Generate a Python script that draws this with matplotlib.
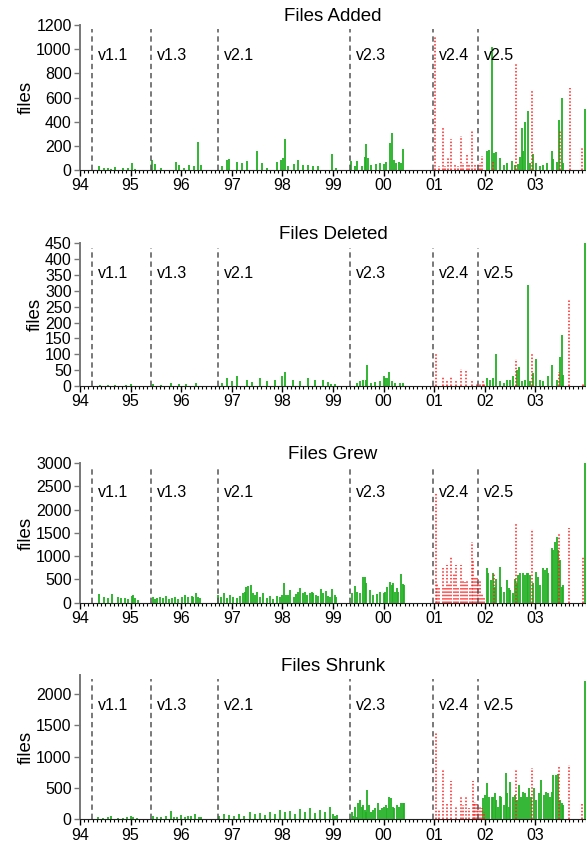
import numpy as np
import matplotlib
matplotlib.use('Agg')
import matplotlib.pyplot as plt
from matplotlib.ticker import FixedLocator, MultipleLocator

plt.rcParams['font.family'] = ['Liberation Sans', 'DejaVu Sans']

# versiones (fecha de inicio, en años desde 1900)
versions = ['v1.1', 'v1.3', 'v2.1', 'v2.3', 'v2.4', 'v2.5']
version_yr = [94.23, 95.41, 96.72, 99.33, 100.98, 101.87]

year_ticks = [94, 95, 96, 97, 98, 99, 100, 101, 102, 103]
year_labels = ['94', '95', '96', '97', '98', '99', '00', '01', '02', '03']

# ---------- Files Added ----------
added_green_yr = [94.38, 94.47, 94.55, 94.62, 94.70, 94.85, 94.95, 95.02, 95.08,
                  95.43, 95.48, 95.60, 95.90, 95.95, 96.05, 96.15, 96.25, 96.33, 96.40,
                  96.80, 96.90, 96.95, 97.10, 97.20, 97.30, 97.50, 97.60, 97.70, 97.90,
                  97.98, 98.02, 98.06, 98.12, 98.23, 98.30, 98.40, 98.50, 98.60, 98.70,
                  98.98, 99.05,
                  99.36, 99.43, 99.47, 99.58, 99.63, 99.66, 99.69, 99.76, 99.85, 99.92,
                  100.00, 100.05, 100.13, 100.17, 100.20, 100.25, 100.30, 100.35, 100.38,
                  102.04, 102.08, 102.15, 102.19, 102.23, 102.30, 102.37, 102.43, 102.53,
                  102.60, 102.66, 102.69, 102.73, 102.76, 102.80, 102.86, 102.89, 102.96,
                  103.02, 103.09, 103.16, 103.22, 103.32, 103.35, 103.42, 103.47, 103.52,
                  103.55, 103.99]
added_green_n = [30, 15, 20, 12, 25, 15, 20, 60, 10,
                 85, 50, 20, 70, 45, 20, 40, 35, 235, 40,
                 35, 85, 90, 70, 60, 75, 160, 60, 20, 70,
                 80, 100, 255, 35, 50, 85, 45, 40, 35, 30,
                 135, 15,
                 75, 30, 75, 30, 110, 215, 100, 40, 50, 60,
                 50, 70, 220, 310, 80, 60, 65, 55, 175,
                 160, 165, 1015, 140, 150, 100, 40, 60, 75,
                 40, 50, 110, 345, 160, 400, 490, 60, 130,
                 60, 30, 40, 60, 160, 90, 70, 410, 600,
                 60, 505]
added_red_yr = [101.02, 101.10, 101.17, 101.21, 101.27, 101.34, 101.41, 101.48, 101.53,
                101.57, 101.64, 101.69, 101.75, 101.80, 101.86, 101.90, 101.94, 102.17,
                102.62, 102.94, 103.49, 103.68, 103.93]
added_red_n = [1100, 30, 350, 30, 110, 255, 40, 30, 280,
               60, 125, 40, 320, 40, 50, 60, 120, 70,
               880, 650, 320, 680, 185]

# ---------- Files Deleted ----------
deleted_green_yr = [94.40, 94.55, 94.70, 94.90, 95.00,
                    95.45, 95.60, 95.80, 95.95, 96.10, 96.30,
                    96.80, 96.90, 97.00, 97.10, 97.30, 97.40, 97.55, 97.70, 97.85, 98.00,
                    98.05, 98.20, 98.35, 98.50, 98.65, 98.80, 98.90, 98.97, 99.04,
                    99.47, 99.53, 99.60, 99.65, 99.68, 99.76, 99.83, 99.93, 100.00, 100.03,
                    100.07, 100.11, 100.16, 100.23, 100.33, 100.39,
                    102.05, 102.10, 102.17, 102.23, 102.30, 102.37, 102.43, 102.50, 102.55,
                    102.63, 102.68, 102.73, 102.79, 102.86, 102.89, 102.96, 103.02, 103.09,
                    103.16, 103.25, 103.32, 103.42, 103.49, 103.52, 103.55, 103.99]
deleted_green_n = [3, 4, 4, 3, 5,
                   5, 4, 8, 5, 6, 10,
                   10, 25, 15, 30, 20, 12, 25, 15, 20, 30,
                   45, 20, 15, 25, 18, 20, 12, 5, 6,
                   10, 15, 20, 20, 65, 10, 12, 15, 30, 25,
                   25, 45, 15, 10, 10, 8,
                   25, 20, 25, 100, 15, 10, 20, 18, 30,
                   50, 60, 15, 20, 320, 15, 40, 85, 20,
                   15, 30, 65, 20, 90, 160, 35, 470]
deleted_red_yr = [101.04, 101.17, 101.26, 101.34, 101.43, 101.52, 101.63, 101.74, 101.84,
                  101.91, 101.96, 101.98, 102.61, 102.94, 103.47, 103.67, 103.95]
deleted_red_n = [105, 30, 20, 30, 15, 55, 50, 20, 10,
                 10, 15, 5, 85, 100, 45, 270, 8]

# ---------- Files Grew ----------
grew_green_yr = [94.38, 94.47, 94.56, 94.63, 94.76, 94.82, 94.89, 94.95, 95.02, 95.05,
                 95.09, 95.15,
                 95.44, 95.48, 95.53, 95.58, 95.65, 95.70, 95.75, 95.81, 95.88, 95.94,
                 96.01, 96.08, 96.14, 96.21, 96.24, 96.29, 96.34, 96.38,
                 96.73, 96.78, 96.85, 96.90, 96.96, 97.03, 97.10, 97.16, 97.23, 97.26,
                 97.29, 97.33, 97.37, 97.41, 97.46, 97.50, 97.56, 97.62, 97.69, 97.75,
                 97.82, 97.89, 97.95, 97.99, 98.03, 98.07, 98.12, 98.16, 98.22, 98.27,
                 98.31, 98.35, 98.40, 98.45, 98.49, 98.55, 98.58, 98.61, 98.66, 98.71,
                 98.76, 98.81, 98.86, 98.91, 98.95, 98.99, 99.04, 99.06,
                 99.37, 99.43, 99.48, 99.53, 99.60, 99.63, 99.66, 99.73, 99.80, 99.86,
                 99.93, 100.00, 100.03, 100.07, 100.13, 100.16, 100.19, 100.23, 100.26,
                 100.29, 100.34, 100.38, 100.40,
                 102.05, 102.07, 102.12, 102.16, 102.20, 102.23, 102.30, 102.33, 102.37,
                 102.43, 102.47, 102.50, 102.55, 102.60, 102.63, 102.66, 102.70, 102.75,
                 102.79, 102.83, 102.86, 102.89, 102.96, 103.01, 103.06, 103.09, 103.16,
                 103.19, 103.22, 103.25, 103.32, 103.35, 103.39, 103.42, 103.45, 103.49,
                 103.52, 103.55, 103.99]
grew_green_n = [186, 130, 93, 186, 115, 90, 90, 70, 143, 165,
                90, 55,
                130, 70, 90, 130, 90, 143, 70, 90, 115, 70,
                130, 165, 115, 143, 130, 200, 115, 90,
                165, 130, 200, 90, 165, 115, 90, 143, 215, 237,
                344, 358, 380, 215, 165, 237, 130, 200, 90, 143,
                70, 143, 130, 165, 416, 165, 165, 272, 130, 186,
                237, 308, 200, 237, 165, 215, 237, 215, 165, 143,
                287, 200, 258, 143, 130, 300, 165, 115,
                200, 360, 240, 210, 545, 560, 415, 270, 165, 185,
                235, 200, 235, 345, 450, 380, 415, 235, 310,
                235, 617, 400, 380,
                740, 630, 490, 630, 345, 520, 775, 345, 235,
                490, 310, 270, 200, 520, 415, 595, 630, 630,
                595, 645, 630, 595, 415, 667, 560, 380, 740,
                700, 740, 630, 1170, 1130, 1310, 1420, 1130, 920,
                345, 380, 3100]
grew_red_yr = [101.04, 101.06, 101.10, 101.17, 101.21, 101.26, 101.30, 101.34, 101.39,
               101.43, 101.48, 101.52, 101.56, 101.61, 101.65, 101.71, 101.74, 101.77,
               101.81, 101.84, 101.87, 101.91, 101.94, 101.98, 102.18, 102.61, 102.94,
               103.47, 103.67, 103.95]
grew_red_n = [2370, 415, 310, 740, 310, 810, 415, 990, 630,
              810, 345, 810, 490, 450, 490, 345, 1310, 920,
              560, 560, 450, 490, 200, 130, 630, 1690, 1580,
              1505, 1600, 990]

# ---------- Files Shrunk ----------
shrunk_green_yr = [94.35, 94.45, 94.55, 94.62, 94.75, 94.85, 94.92, 95.00, 95.05, 95.12,
                   95.45, 95.52, 95.60, 95.70, 95.80, 95.86, 95.92, 96.00, 96.08, 96.14,
                   96.20, 96.28, 96.35, 96.40,
                   96.75, 96.85, 96.95, 97.05, 97.15, 97.25, 97.35, 97.45, 97.55, 97.65,
                   97.75, 97.85, 97.95, 98.05, 98.15, 98.25, 98.35, 98.45, 98.55, 98.65,
                   98.75, 98.85, 98.95, 99.00, 99.04, 99.07,
                   99.37, 99.40, 99.43, 99.47, 99.50, 99.53, 99.57, 99.60, 99.63, 99.65,
                   99.68, 99.72, 99.76, 99.80, 99.83, 99.88, 99.92, 99.96, 100.00, 100.05,
                   100.07, 100.11, 100.15, 100.18, 100.21, 100.26, 100.31, 100.34, 100.38,
                   100.40,
                   101.96, 102.00, 102.05, 102.09, 102.14, 102.17, 102.20, 102.23, 102.27,
                   102.30, 102.33, 102.37, 102.41, 102.43, 102.47, 102.50, 102.55, 102.60,
                   102.63, 102.68, 102.72, 102.75, 102.79, 102.83, 102.88, 102.92, 102.97,
                   103.02, 103.08, 103.12, 103.17, 103.21, 103.25, 103.29, 103.32, 103.35,
                   103.41, 103.44, 103.49, 103.52, 103.55, 103.99]
shrunk_green_n = [40, 25, 30, 50, 25, 20, 35, 50, 30, 20,
                  60, 40, 30, 50, 130, 40, 45, 70, 40, 55,
                  60, 80, 40, 30,
                  60, 80, 70, 50, 90, 60, 110, 80, 100, 70,
                  120, 90, 150, 110, 130, 90, 160, 120, 180, 100,
                  150, 120, 190, 80, 53, 70,
                  122, 60, 202, 40, 255, 309, 200, 229, 150, 122,
                  468, 229, 122, 150, 175, 255, 150, 175, 200, 229,
                  175, 362, 335, 200, 175, 229, 200, 255, 255,
                  255,
                  335, 388, 575, 362, 350, 362, 426, 309, 202,
                  372, 362, 229, 734, 415, 202, 601, 362, 388,
                  309, 548, 362, 442, 415, 362, 495, 362, 495,
                  309, 415, 628, 388, 442, 415, 362, 442, 708,
                  708, 724, 309, 255, 229, 2210]
shrunk_red_yr = [101.04, 101.10, 101.17, 101.26, 101.34, 101.43, 101.52, 101.56, 101.63,
                 101.69, 101.76, 101.79, 101.81, 101.84, 101.87, 101.91, 101.94, 101.98,
                 102.61, 102.94, 103.47, 103.67, 103.93]
shrunk_red_n = [1372, 160, 798, 255, 617, 202, 362, 229, 362,
                175, 617, 280, 280, 255, 202, 202, 175, 122,
                798, 814, 851, 867, 266]

paneles = [
    ('Files Added', added_green_yr, added_green_n, added_red_yr, added_red_n, 1200, 200, 1200),
    ('Files Deleted', deleted_green_yr, deleted_green_n, deleted_red_yr, deleted_red_n, 450, 50, 450),
    ('Files Grew', grew_green_yr, grew_green_n, grew_red_yr, grew_red_n, 3000, 500, 3000),
    ('Files Shrunk', shrunk_green_yr, shrunk_green_n, shrunk_red_yr, shrunk_red_n, 2300, 500, 2000),
]

# posiciones de los ejes (fracción de la figura)
bottoms = [0.7995, 0.5448, 0.2893, 0.0338]
heights = [0.1710, 0.1683, 0.1644, 0.1702]

fig = plt.figure(figsize=(5.86, 8.48), dpi=100)

for i, (titulo, gx, gy, rx, ry, ytop, ystep, ymaxtick) in enumerate(paneles):
    ax = fig.add_axes([0.1365, bottoms[i], 0.8635, heights[i]])
    ax.vlines(gx, 0, gy, colors='#22b022', linewidth=1.3)
    ax.vlines(rx, 0, ry, colors='#ff2020', linestyles=(0, (1.0, 1.2)), linewidth=1.1)
    for v, x in zip(versions, version_yr):
        ax.axvline(x, ymin=0, ymax=0.97, color='#555555', linestyle=(0, (3.5, 2.5)), linewidth=1.1)
        ax.text(x + 0.12, ytop * 0.79, v, fontsize=11.5, va='center', ha='left')
    ax.set_xlim(94, 104)
    ax.set_ylim(0, ytop)
    ax.xaxis.set_major_locator(FixedLocator(year_ticks))
    ax.set_xticklabels(year_labels)
    ax.xaxis.set_minor_locator(MultipleLocator(1 / 12))
    ax.set_yticks(np.arange(0, ymaxtick + 1, ystep))
    ax.tick_params(axis='both', which='major', labelsize=11.5, direction='out', length=4, width=1)
    ax.tick_params(axis='x', which='minor', direction='out', length=2, width=0.8)
    ax.tick_params(axis='y', colors='#777777', labelcolor='black', pad=2)
    ax.tick_params(axis='x', pad=2)
    ax.spines['top'].set_visible(False)
    ax.spines['right'].set_visible(False)
    ax.spines['left'].set_color('#777777')
    ax.spines['left'].set_linewidth(1.4)
    ax.spines['bottom'].set_color('#222222')
    ax.set_ylabel('files', fontsize=13.5, labelpad=1)
    ax.set_title(titulo, fontsize=13.5, pad=3)

fig.savefig('out.png', dpi=100)
